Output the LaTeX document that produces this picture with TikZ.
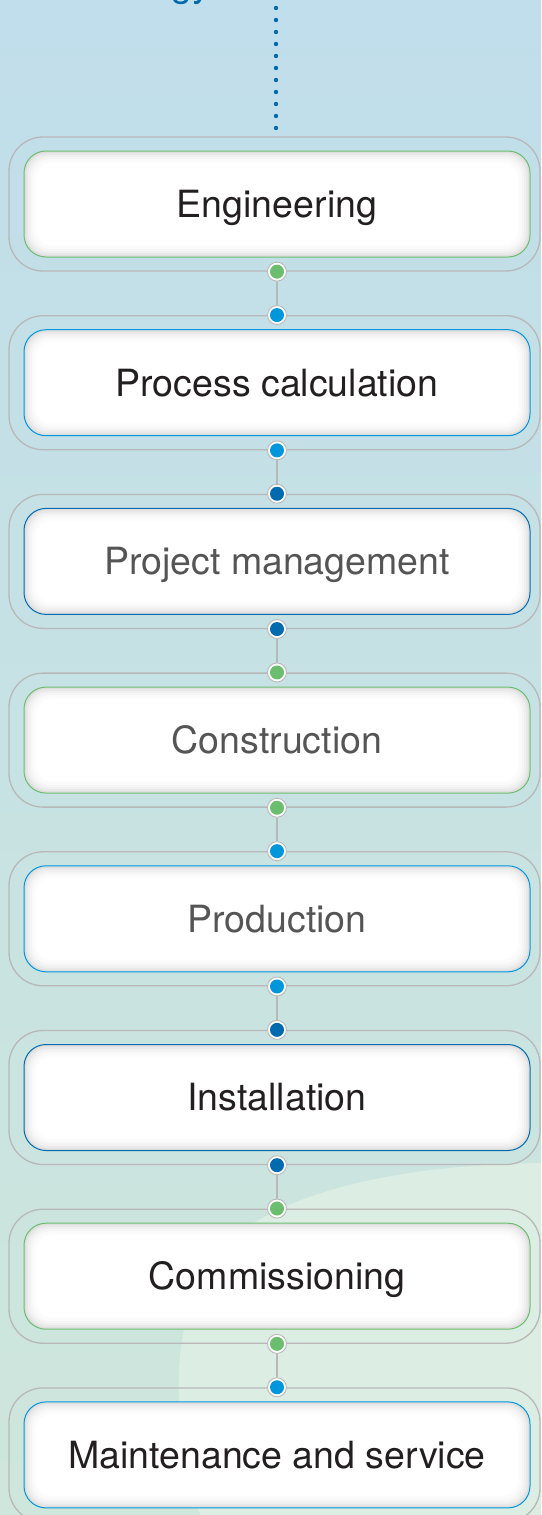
\documentclass[tikz,border=0pt]{standalone}
\usepackage{fontspec}
\setmainfont{TeX Gyre Heros}
\usetikzlibrary{positioning}

\definecolor{bgtop}{HTML}{C0DEEB}
\definecolor{bgbot}{HTML}{CEE6DB}
\definecolor{bglight}{HTML}{DCEDE3}
\definecolor{stgreen}{HTML}{6CBE6F}
\definecolor{stblue}{HTML}{0096DB}
\definecolor{stdark}{HTML}{006AAE}
\definecolor{framegray}{HTML}{B8B8B8}
\definecolor{txtdark}{HTML}{231F20}
\definecolor{txtgray}{HTML}{555555}

\tikzset{
  stage/.style={rounded corners=22pt, line width=1pt, fill=white,
    minimum width=506pt, minimum height=106pt, inner sep=0pt,
    font=\fontsize{37.5}{44}\selectfont, text height=26.9pt, text depth=0pt,
    path picture={
      \foreach \i/\s in {0/13,2/9,4/6,6/4,8/2,10/1,12/0}
        \fill[black!\s!white, rounded corners=22pt-\i pt/2]
          ([shift={(\i pt,-\i pt)}]path picture bounding box.north west) rectangle
          ([shift={(-\i pt,\i pt)}]path picture bounding box.south east);
    }},
  framebox/.style={draw=framegray, line width=1.3pt, rounded corners=34pt,
    minimum width=531pt, minimum height=134pt, inner sep=0pt},
  joint/.style={circle, draw=framegray, line width=0.9pt, fill=white,
    minimum size=19pt, inner sep=0pt,
    path picture={\fill[#1] (path picture bounding box.center) circle (7pt);}},
  link/.style={draw=framegray, line width=1.8pt},
  leader/.style={draw=stdark, line width=4.4pt, line cap=round, dash pattern=on 0pt off 12pt},
}

\begin{document}
\begin{tikzpicture}[x=1pt, y=-1pt]
  \useasboundingbox (0,0) rectangle (541,1515);

  % background
  \fill[top color=bgtop, bottom color=bgbot] (0,0) rectangle (541,1515);
  \fill[bglight] (541,1163) .. controls (400,1165) and (290,1190) .. (230,1240)
    .. controls (180,1290) and (160,1380) .. (200,1515) -- (541,1515) -- cycle;

  % heading (cut off)
  \node[text=stdark, anchor=base west, inner sep=0pt, font=\fontsize{37.5}{44}\selectfont] (heading) at (171,-3) {gy};

  % dotted lead-in
  \coordinate (lead top) at (276,8);
  \coordinate (lead end) at (276,128);
  \draw[leader] (lead top) -- (lead end);

  % stages
  \foreach \n/\y/\c/\t/\txt in {
      1/204/stgreen/txtdark/Engineering,
      2/382.7/stblue/txtdark/Process calculation,
      3/561.4/stdark/txtgray/Project management,
      4/740.1/stgreen/txtgray/Construction,
      5/918.8/stblue/txtgray/Production,
      6/1097.5/stdark/txtdark/Installation,
      7/1276.2/stgreen/txtdark/Commissioning,
      8/1454.9/stblue/txtdark/Maintenance and service}
  {
    \node[framebox] (f\n) at (274.5,\y) {};
    \node[stage, draw=\c, text=\t] (s\n) at (277,\y) {\txt};
    \ifnum\n>1 \node[joint=\c] (t\n) at (s\n |- f\n.north) {}; \fi
    \ifnum\n<8 \node[joint=\c] (b\n) at (s\n |- f\n.south) {}; \fi
  }

  % links between stages
  \foreach \n [evaluate=\n as \m using int(\n+1)] in {1,...,7}
    \draw[link] (b\n.south) -- (t\m.north);
\end{tikzpicture}
\end{document}
